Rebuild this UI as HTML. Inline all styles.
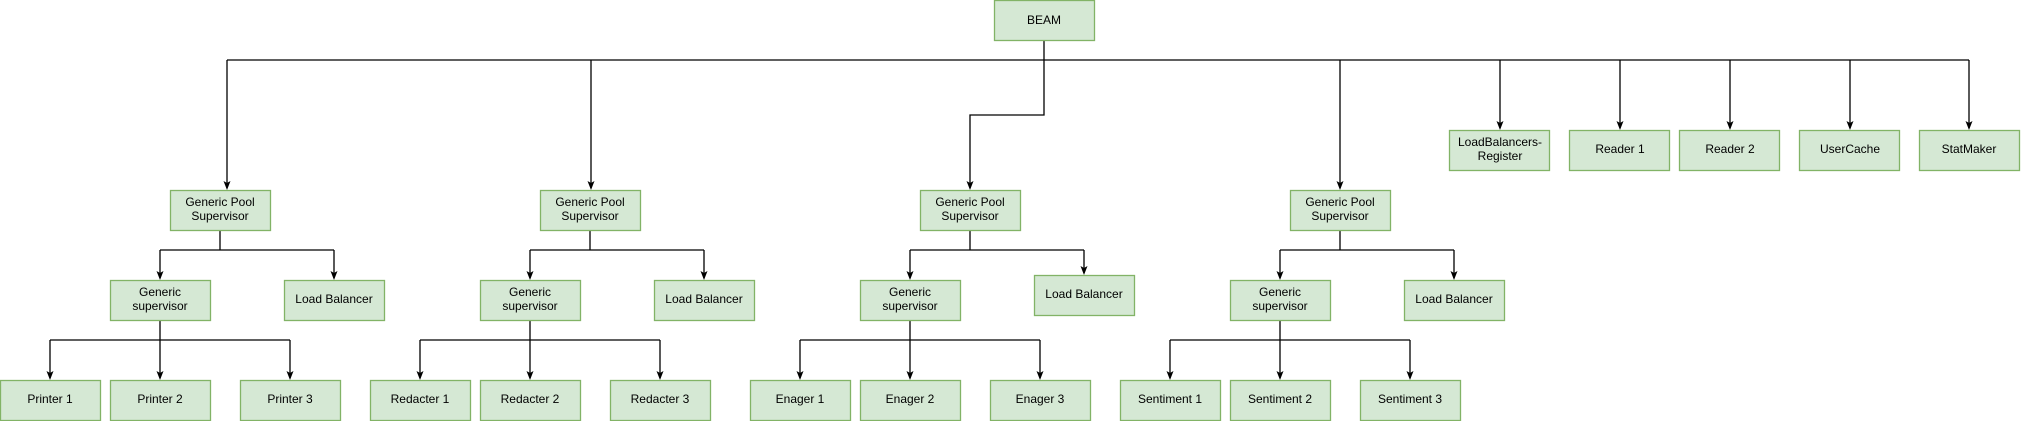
<!DOCTYPE html>
<html><head><meta charset="utf-8"><style>
html,body{margin:0;padding:0;background:#fff;width:2021px;height:421px;overflow:hidden}
svg text{font-family:"Liberation Sans",Arial,sans-serif;font-size:12px;fill:#000;text-anchor:middle}
</style></head><body>
<svg width="2021" height="421" viewBox="0 0 2021 421" xmlns="http://www.w3.org/2000/svg">
<defs><marker id="a" markerWidth="8" markerHeight="8" refX="4" refY="7" orient="auto" markerUnits="userSpaceOnUse"><path d="M0,0 L4,7 L8,0 L4,2 Z" fill="#000" transform="rotate(-90 4 4)"/></marker></defs>
<g stroke="#000" stroke-width="1.3" fill="none">
<!-- top -->
<path d="M1044,40 V115 H970 V188"/>
<path d="M227,60 H1969"/>
<path d="M227,60 V188"/><path d="M591,60 V188"/><path d="M1340,60 V188"/>
<path d="M1500,60 V128"/><path d="M1620,60 V128"/><path d="M1730,60 V128"/><path d="M1850,60 V128"/><path d="M1969,60 V128"/>
<!-- GP1 -->
<path d="M220,230 V250 M160,250 H334 M160,250 V278 M334,250 V278"/>
<path d="M160,320 V340 M50,340 H290 M50,340 V378 M160,340 V378 M290,340 V378"/>
<!-- GP2 -->
<path d="M590,230 V250 M530,250 H704 M530,250 V278 M704,250 V278"/>
<path d="M530,320 V340 M420,340 H660 M420,340 V378 M530,340 V378 M660,340 V378"/>
<!-- GP3 -->
<path d="M970,230 V250 M910,250 H1084 M910,250 V278 M1084,250 V273"/>
<path d="M910,320 V340 M800,340 H1040 M800,340 V378 M910,340 V378 M1040,340 V378"/>
<!-- GP4 -->
<path d="M1340,230 V250 M1280,250 H1454 M1280,250 V278 M1454,250 V278"/>
<path d="M1280,320 V340 M1170,340 H1410 M1170,340 V378 M1280,340 V378 M1410,340 V378"/>
</g>
<!-- arrowheads -->
<g fill="#000">
<path id="ah" d="M0,0 L-3.5,-9 L0,-7 L3.5,-9 Z" transform="translate(227,190)"/>
<path d="M0,0 L-3.5,-9 L0,-7 L3.5,-9 Z" transform="translate(591,190)"/>
<path d="M0,0 L-3.5,-9 L0,-7 L3.5,-9 Z" transform="translate(970,190)"/>
<path d="M0,0 L-3.5,-9 L0,-7 L3.5,-9 Z" transform="translate(1340,190)"/>
<path d="M0,0 L-3.5,-9 L0,-7 L3.5,-9 Z" transform="translate(1500,130)"/>
<path d="M0,0 L-3.5,-9 L0,-7 L3.5,-9 Z" transform="translate(1620,130)"/>
<path d="M0,0 L-3.5,-9 L0,-7 L3.5,-9 Z" transform="translate(1730,130)"/>
<path d="M0,0 L-3.5,-9 L0,-7 L3.5,-9 Z" transform="translate(1850,130)"/>
<path d="M0,0 L-3.5,-9 L0,-7 L3.5,-9 Z" transform="translate(1969,130)"/>
<path d="M0,0 L-3.5,-9 L0,-7 L3.5,-9 Z" transform="translate(160,280)"/>
<path d="M0,0 L-3.5,-9 L0,-7 L3.5,-9 Z" transform="translate(334,280)"/>
<path d="M0,0 L-3.5,-9 L0,-7 L3.5,-9 Z" transform="translate(530,280)"/>
<path d="M0,0 L-3.5,-9 L0,-7 L3.5,-9 Z" transform="translate(704,280)"/>
<path d="M0,0 L-3.5,-9 L0,-7 L3.5,-9 Z" transform="translate(910,280)"/>
<path d="M0,0 L-3.5,-9 L0,-7 L3.5,-9 Z" transform="translate(1084,275)"/>
<path d="M0,0 L-3.5,-9 L0,-7 L3.5,-9 Z" transform="translate(1280,280)"/>
<path d="M0,0 L-3.5,-9 L0,-7 L3.5,-9 Z" transform="translate(1454,280)"/>
<path d="M0,0 L-3.5,-9 L0,-7 L3.5,-9 Z" transform="translate(50,380)"/>
<path d="M0,0 L-3.5,-9 L0,-7 L3.5,-9 Z" transform="translate(160,380)"/>
<path d="M0,0 L-3.5,-9 L0,-7 L3.5,-9 Z" transform="translate(290,380)"/>
<path d="M0,0 L-3.5,-9 L0,-7 L3.5,-9 Z" transform="translate(420,380)"/>
<path d="M0,0 L-3.5,-9 L0,-7 L3.5,-9 Z" transform="translate(530,380)"/>
<path d="M0,0 L-3.5,-9 L0,-7 L3.5,-9 Z" transform="translate(660,380)"/>
<path d="M0,0 L-3.5,-9 L0,-7 L3.5,-9 Z" transform="translate(800,380)"/>
<path d="M0,0 L-3.5,-9 L0,-7 L3.5,-9 Z" transform="translate(910,380)"/>
<path d="M0,0 L-3.5,-9 L0,-7 L3.5,-9 Z" transform="translate(1040,380)"/>
<path d="M0,0 L-3.5,-9 L0,-7 L3.5,-9 Z" transform="translate(1170,380)"/>
<path d="M0,0 L-3.5,-9 L0,-7 L3.5,-9 Z" transform="translate(1280,380)"/>
<path d="M0,0 L-3.5,-9 L0,-7 L3.5,-9 Z" transform="translate(1410,380)"/>
</g>
<!-- boxes -->
<g fill="#d5e8d4" stroke="#82b366" stroke-width="1.3">
<rect x="994.5" y="0.5" width="100" height="40"/>
<rect x="1449.5" y="130.5" width="100" height="40"/>
<rect x="1569.5" y="130.5" width="100" height="40"/>
<rect x="1679.5" y="130.5" width="100" height="40"/>
<rect x="1799.5" y="130.5" width="100" height="40"/>
<rect x="1919.5" y="130.5" width="100" height="40"/>
<rect x="170.5" y="190.5" width="100" height="40"/>
<rect x="540.5" y="190.5" width="100" height="40"/>
<rect x="920.5" y="190.5" width="100" height="40"/>
<rect x="1290.5" y="190.5" width="100" height="40"/>
<rect x="110.5" y="280.5" width="100" height="40"/>
<rect x="284.5" y="280.5" width="100" height="40"/>
<rect x="480.5" y="280.5" width="100" height="40"/>
<rect x="654.5" y="280.5" width="100" height="40"/>
<rect x="860.5" y="280.5" width="100" height="40"/>
<rect x="1034.5" y="275.5" width="100" height="40"/>
<rect x="1230.5" y="280.5" width="100" height="40"/>
<rect x="1404.5" y="280.5" width="100" height="40"/>
<rect x="0.5" y="380.5" width="100" height="40"/>
<rect x="110.5" y="380.5" width="100" height="40"/>
<rect x="240.5" y="380.5" width="100" height="40"/>
<rect x="370.5" y="380.5" width="100" height="40"/>
<rect x="480.5" y="380.5" width="100" height="40"/>
<rect x="610.5" y="380.5" width="100" height="40"/>
<rect x="750.5" y="380.5" width="100" height="40"/>
<rect x="860.5" y="380.5" width="100" height="40"/>
<rect x="990.5" y="380.5" width="100" height="40"/>
<rect x="1120.5" y="380.5" width="100" height="40"/>
<rect x="1230.5" y="380.5" width="100" height="40"/>
<rect x="1360.5" y="380.5" width="100" height="40"/>
</g>
<g>
<text x="1044" y="24">BEAM</text>
<text x="1500" y="146">LoadBalancers-</text><text x="1500" y="160">Register</text>
<text x="1620" y="153">Reader 1</text>
<text x="1730" y="153">Reader 2</text>
<text x="1850" y="153">UserCache</text>
<text x="1969" y="153">StatMaker</text>
<text x="220" y="206">Generic Pool</text><text x="220" y="220">Supervisor</text>
<text x="590" y="206">Generic Pool</text><text x="590" y="220">Supervisor</text>
<text x="970" y="206">Generic Pool</text><text x="970" y="220">Supervisor</text>
<text x="1340" y="206">Generic Pool</text><text x="1340" y="220">Supervisor</text>
<text x="160" y="296">Generic</text><text x="160" y="310">supervisor</text>
<text x="334" y="303">Load Balancer</text>
<text x="530" y="296">Generic</text><text x="530" y="310">supervisor</text>
<text x="704" y="303">Load Balancer</text>
<text x="910" y="296">Generic</text><text x="910" y="310">supervisor</text>
<text x="1084" y="298">Load Balancer</text>
<text x="1280" y="296">Generic</text><text x="1280" y="310">supervisor</text>
<text x="1454" y="303">Load Balancer</text>
<text x="50" y="403">Printer 1</text>
<text x="160" y="403">Printer 2</text>
<text x="290" y="403">Printer 3</text>
<text x="420" y="403">Redacter 1</text>
<text x="530" y="403">Redacter 2</text>
<text x="660" y="403">Redacter 3</text>
<text x="800" y="403">Enager 1</text>
<text x="910" y="403">Enager 2</text>
<text x="1040" y="403">Enager 3</text>
<text x="1170" y="403">Sentiment 1</text>
<text x="1280" y="403">Sentiment 2</text>
<text x="1410" y="403">Sentiment 3</text>
</g>
</svg>
</body></html>
